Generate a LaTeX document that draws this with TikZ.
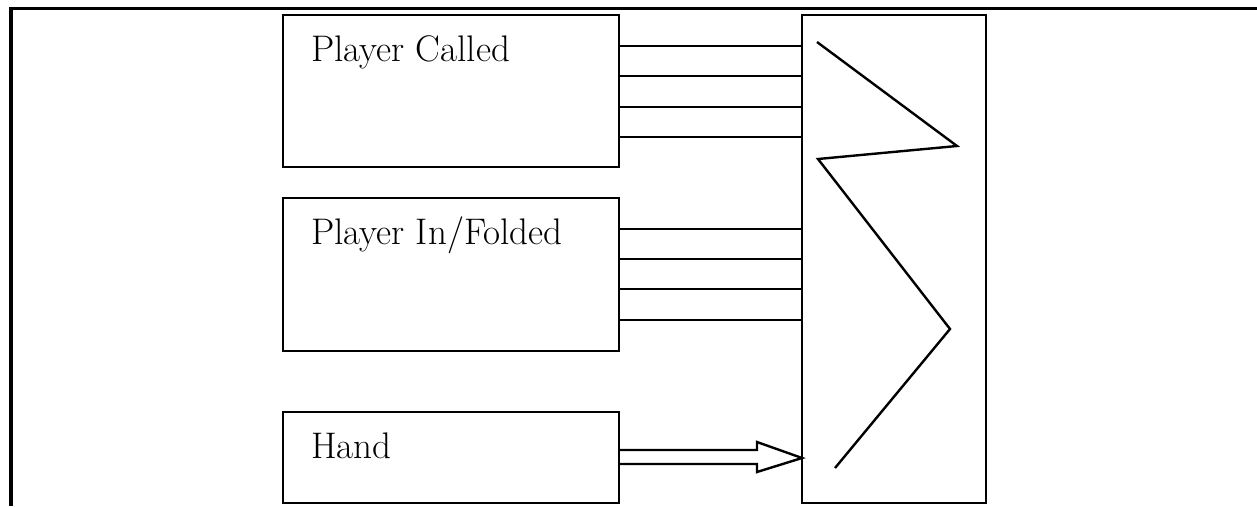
\documentclass[tikz,border=0pt]{standalone}
\usepackage{tikz}
\usetikzlibrary{positioning}

\tikzset{
  blockbox/.style={draw, line width=2.4pt, rectangle, inner sep=0pt, outer sep=0pt, anchor=north west},
  blocktext/.style={anchor=base west, inner sep=0pt, font=\fontsize{37}{44}\selectfont},
  wire/.style={line width=2.4pt},
}

\begin{document}
\begin{tikzpicture}[x=1pt, y=-1pt, line join=miter]
\useasboundingbox (0,0) rectangle (1257,506);
% Rahmen
\draw[line width=3.2pt] (11,506) -- (11,8.5) -- (1257,8.5);

% Bloecke
\node[blockbox, minimum width=336pt, minimum height=152pt] (called) at (283,15) {};
\node[blockbox, minimum width=336pt, minimum height=153pt, below=31pt of called.south west, anchor=north west] (folded) {};
\node[blockbox, minimum width=336pt, minimum height=91pt, below=61pt of folded.south west, anchor=north west] (hand) {};
\node[blockbox, minimum width=184pt, minimum height=488pt] (hub) at (802,15) {};

% Texte
\node[blocktext] (calledtxt) at (311,61) {Player Called};
\node[blocktext] (foldedtxt) at (311,244) {Player In/Folded};
\node[blocktext] (handtxt) at (311,458) {Hand};

% Leitungen
\foreach \y in {46,76,107,137}
  \draw[wire] (called.east |- 0,\y) -- (hub.west |- 0,\y);
\foreach \y in {229,259,289,320}
  \draw[wire] (folded.east |- 0,\y) -- (hub.west |- 0,\y);

% Doppelpfeil
\draw[wire] (hand.east |- 0,450) -- (757,450) -- (757,442) -- (hub.west |- 0,458)
  -- (757,472) -- (757,464) -- (hand.east |- 0,464);

% Zickzack
\draw[wire] (817,42) -- (957,146) -- (818,159) -- (950,329) -- (835,468);
\end{tikzpicture}
\end{document}
